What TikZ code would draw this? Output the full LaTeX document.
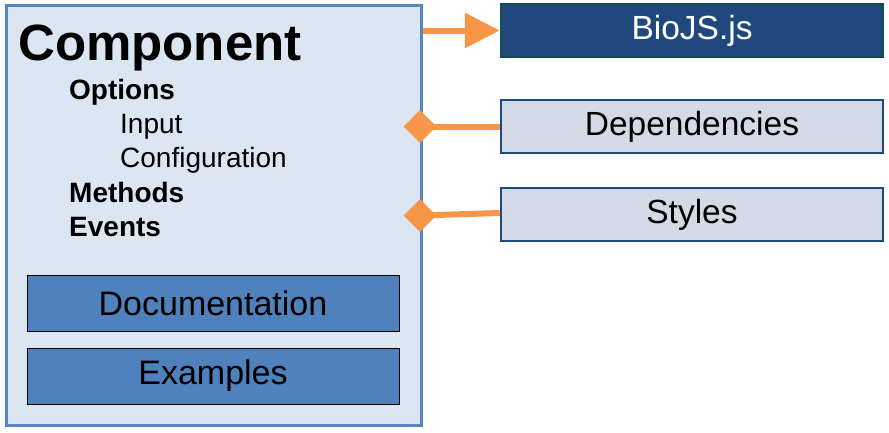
\documentclass[tikz,border=0pt]{standalone}
\usepackage{fontspec}
\setmainfont{Liberation Sans}
\usetikzlibrary{arrows.meta,shapes.geometric}
\definecolor{compfill}{HTML}{DCE6F2}
\definecolor{compline}{HTML}{5686C1}
\definecolor{docfill}{HTML}{4F81BD}
\definecolor{darkblue}{HTML}{1F497D}
\definecolor{darkteal}{HTML}{154D55}
\definecolor{lightbox}{HTML}{D3DAE6}
\definecolor{orange}{HTML}{F79646}
\tikzset{
  rbox/.style={draw=darkblue, line width=2.5pt, fill=lightbox, minimum width=382pt, minimum height=53pt, inner sep=0pt, font=\fontsize{33.5}{36}\selectfont},
  docbox/.style={draw=black, line width=1pt, fill=docfill, minimum width=372pt, minimum height=56pt, inner sep=0pt, font=\fontsize{34}{36}\selectfont},
  head/.style={anchor=base west, inner sep=0pt, font=\bfseries\fontsize{28}{30}\selectfont},
  sub/.style={anchor=base west, inner sep=0pt, font=\fontsize{28}{30}\selectfont},
  conn/.style={draw=orange, line width=6pt},
  dia/.style={diamond, fill=orange, minimum width=33pt, minimum height=33pt, inner sep=0pt}
}
\begin{document}
\begin{tikzpicture}[x=1pt,y=-1pt]
\useasboundingbox (0,0) rectangle (889,432);
\node[draw=compline, line width=3pt, fill=compfill, minimum width=415pt, minimum height=420pt, inner sep=0pt] (comp) at (213.5,215) {};
\node[anchor=base west, inner sep=0pt, font=\bfseries\fontsize{51}{54}\selectfont] (title) at (18,60) {Component};
\node[head] (opt) at (69,99) {Options};
\node[sub] (inp) at (120,133) {Input};
\node[sub] (conf) at (120,167) {Configuration};
\node[head] (meth) at (69,202) {Methods};
\node[head] (ev) at (69,236) {Events};
\node[docbox] (doc) at (213,303) {Documentation};
\node[docbox] (ex) at (213,376) {Examples};
\node[rbox, draw=darkteal, fill=darkblue, text=white] (bio) at (692,30.5) {BioJS.js};
\node[rbox] (deps) at (692,126.5) {Dependencies};
\node[rbox] (sty) at (692,214.5) {Styles};
\coordinate (a0) at (comp.east |- bio.west);
\draw[conn, -{Triangle[length=35pt,width=34pt]}] (a0) -- (bio.west);
\node[dia] (d1) at (420,126.5) {};
\node[dia] (d2) at (420,215.5) {};
\draw[conn] (d1.center) -- (deps.west);
\draw[conn] (d2.center) -- ([yshift=1.5pt]sty.west);
\end{tikzpicture}
\end{document}
